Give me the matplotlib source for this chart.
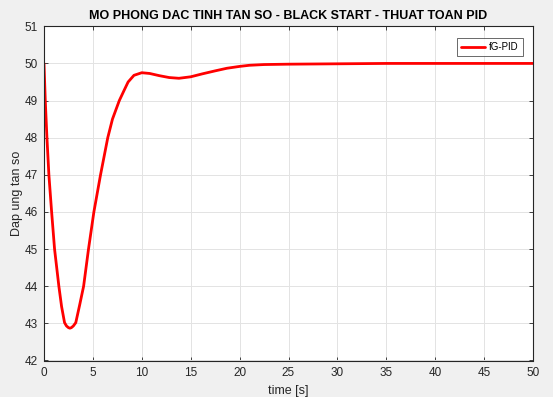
import numpy as np
import matplotlib.pyplot as plt

plt.rcParams['font.family'] = ['Liberation Sans', 'DejaVu Sans']

# values
time_s = [0, 0.13, 0.3, 0.5, 0.78, 1.08, 1.3, 1.52, 1.8, 2.1, 2.3, 2.5, 2.65,
          2.8, 3.0, 3.25, 3.65, 4.05, 4.55, 5.1, 5.78, 6.52, 7.0, 7.7, 8.2,
          8.6, 9.2, 10.0, 10.8, 11.8, 12.8, 13.8, 15.0, 16.2, 17.5, 18.7,
          20.0, 21.0, 22.5, 25.0, 30.0, 35.0, 50.0]
freq_pid = [50.0, 49.0, 48.0, 47.0, 46.0, 45.0, 44.5, 44.0, 43.45, 43.02,
            42.93, 42.885, 42.87, 42.885, 42.93, 43.02, 43.5, 44.0, 45.0,
            46.0, 47.0, 48.0, 48.5, 49.0, 49.28, 49.5, 49.68, 49.75, 49.73,
            49.67, 49.62, 49.60, 49.64, 49.72, 49.80, 49.87, 49.92, 49.95,
            49.97, 49.98, 49.99, 50.0, 50.0]

x_ticks = np.arange(0, 51, 5)
y_ticks = np.arange(42, 52, 1)

fig = plt.figure(figsize=(5.53, 3.97), dpi=100, facecolor='#f0f0f0')
ax = fig.add_axes([44 / 553, 1 - 360.5 / 397, (533 - 44) / 553, (360.5 - 26.3) / 397])
ax.set_facecolor('white')

ax.plot(time_s, freq_pid, color='#ff0000', lw=2.0, label='fG-PID',
        solid_joinstyle='round', solid_capstyle='round')

ax.set_xlim(0, 50)
ax.set_ylim(42, 51)
ax.set_xticks(x_ticks)
ax.set_yticks(y_ticks)
ax.grid(True, color='#e3e3e3', lw=0.7)
ax.set_axisbelow(True)

for s in ax.spines.values():
    s.set_color('#262626')
    s.set_linewidth(0.8)
ax.tick_params(direction='in', length=3, width=0.6, colors='#262626',
               labelsize=8.5, top=True, right=True, pad=4.5)

ax.set_title('MO PHONG DAC TINH TAN SO - BLACK START - THUAT TOAN PID',
             fontsize=9, fontweight='bold', color='black', pad=5)
ax.set_xlabel('time [s]', fontsize=9, color='#262626', labelpad=4.5)
ax.set_ylabel('Dap ung tan so', fontsize=9, color='#262626', labelpad=1)

leg = ax.legend(loc='upper right', fontsize=7, frameon=True, fancybox=False,
                handlelength=2.5, borderpad=0.45, handletextpad=0.4,
                borderaxespad=0, bbox_to_anchor=(0.98, 0.966))
leg.get_frame().set_edgecolor('#262626')
leg.get_frame().set_linewidth(0.6)

fig.savefig('out.png', dpi=100, facecolor=fig.get_facecolor())
